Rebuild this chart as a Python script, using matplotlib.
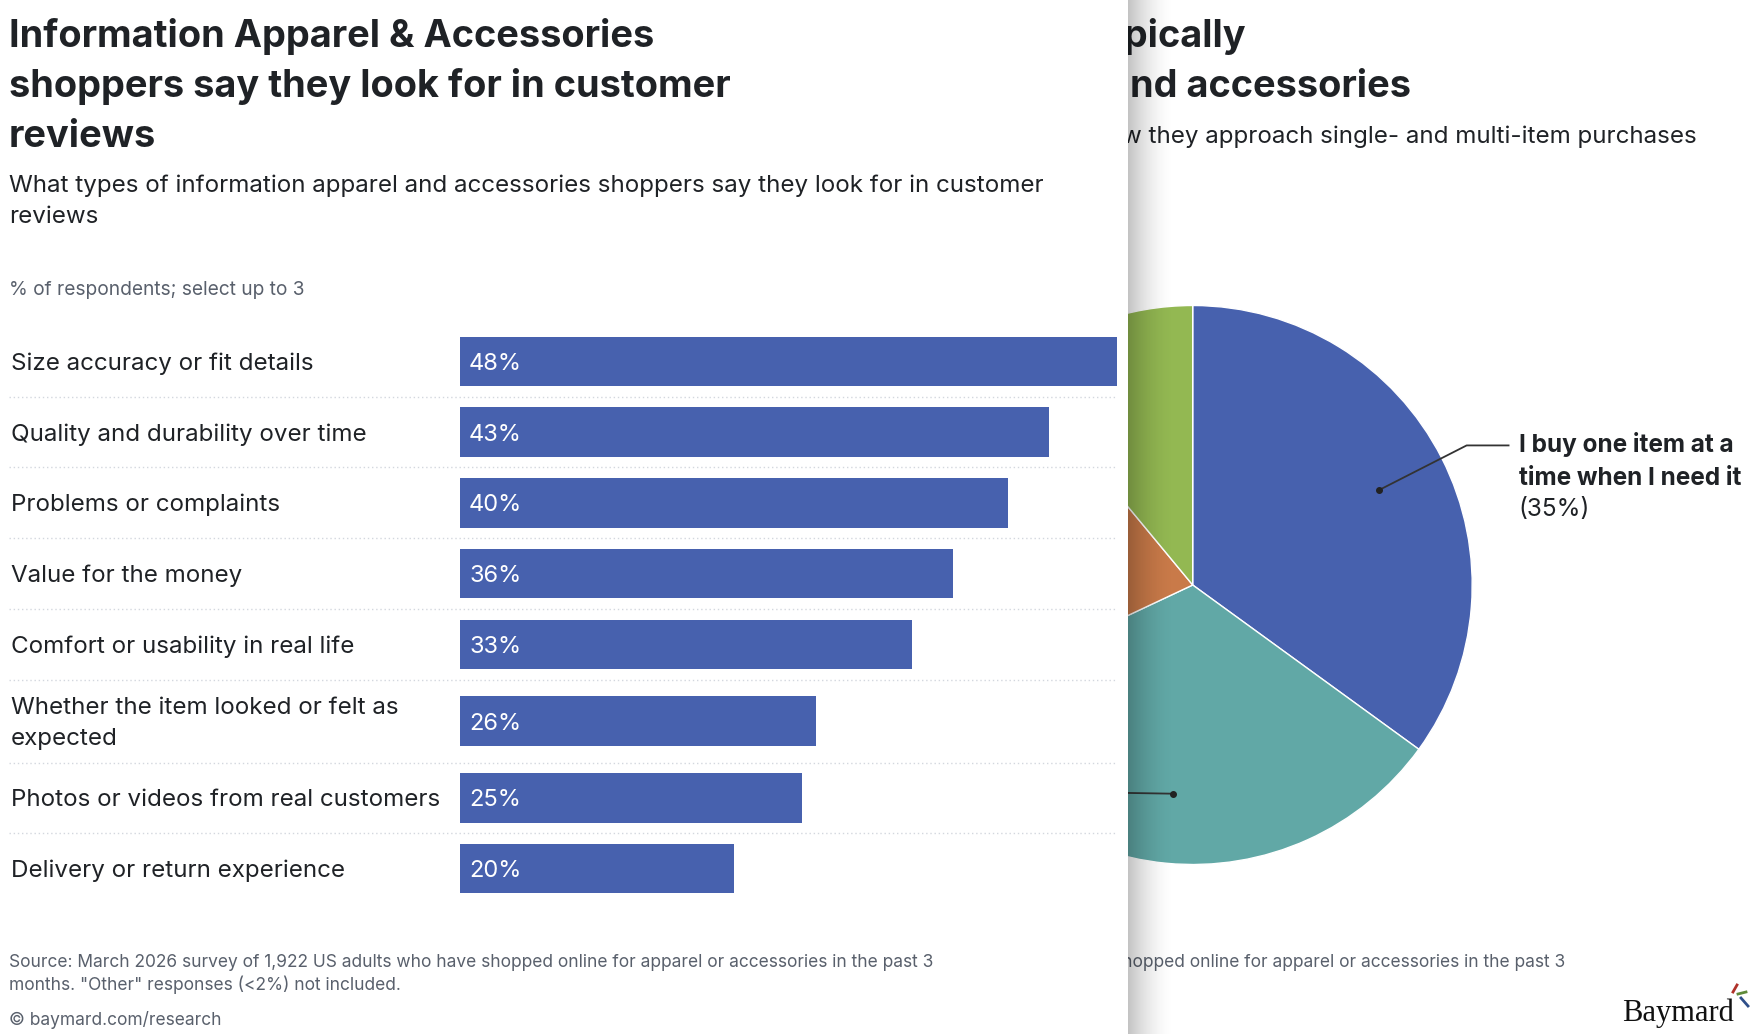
import numpy as np
import matplotlib.pyplot as plt
from matplotlib.patches import Rectangle

plt.rcParams['font.family'] = ['Inter', 'DejaVu Sans']

W, H = 1760, 1034

# bar chart data (left card)
categories = [
    "Size accuracy or fit details",
    "Quality and durability over time",
    "Problems or complaints",
    "Value for the money",
    "Comfort or usability in real life",
    "Whether the item looked or felt as\nexpected",
    "Photos or videos from real customers",
    "Delivery or return experience",
]
values = [48, 43, 40, 36, 33, 26, 25, 20]

# pie data (right card, mostly hidden behind the left card)
pie_values = [35, 33, 21, 11]
pie_colors = ["#4761ae", "#61a8a6", "#c97a49", "#93b852"]
pie_label = ["I buy one item at a", "time when I need it"]
pie_pct = "(35%)"

bar_color = "#4761ae"
dark = "#1f2226"
gray = "#59606c"

fs_title = 27.3
fs_body = 17.4
fs_small = 12.5

fig = plt.figure(figsize=(W / 100, H / 100), dpi=100)
fig.patch.set_facecolor("white")

# ---- right card (behind) ----
back = fig.add_axes([0, 0, 1, 1], zorder=0)
back.set_xlim(0, W)
back.set_ylim(H, 0)
back.axis("off")
back.text(1246, 46.7, "typically", ha="right", va="baseline",
          fontsize=fs_title, fontweight="bold", color=dark)
back.text(1411, 96.7, "and accessories", ha="right", va="baseline",
          fontsize=fs_title, fontweight="bold", color=dark)
back.text(1697, 143, "w they approach single- and multi-item purchases",
          ha="right", va="baseline", fontsize=fs_body, color=dark)
back.text(1565, 967, "shopped online for apparel or accessories in the past 3",
          ha="right", va="baseline", fontsize=fs_small, color=gray)
back.text(1678, 1013, "Baymard", ha="center", va="center", fontsize=22,
          family="Liberation Serif", color="#111111")
back.plot([1733, 1737], [992, 985], color="#b0322a", lw=2)
back.plot([1738, 1746], [994, 992], color="#5f8a3a", lw=2)
back.plot([1741, 1748], [998, 1006], color="#2f4f8a", lw=2)

cx, cy, r = 1192.7, 585.0, 279.5
pax = fig.add_axes([(cx - r) / W, 1 - (cy + r) / H, 2 * r / W, 2 * r / H], zorder=1)
wedges, _ = pax.pie(pie_values, colors=pie_colors, startangle=90, counterclock=False,
                    radius=1, wedgeprops=dict(edgecolor="white", linewidth=1))
pax.set_xlim(-1, 1)
pax.set_ylim(-1, 1)

# leader for the blue slice
w0 = wedges[0]
ang = np.deg2rad((w0.theta1 + w0.theta2) / 2)
p0 = (0.75 * np.cos(ang), 0.75 * np.sin(ang))
p1 = (1.1 * np.cos(ang), 1.1 * np.sin(ang))
p2 = (p1[0] + 0.15, p1[1])
pax.plot([p0[0], p1[0], p2[0]], [p0[1], p1[1], p2[1]], color="#333333", lw=1.3, clip_on=False)
pax.plot(*p0, "o", color="#222222", ms=4, clip_on=False)
lx, ly = cx + p2[0] * r + 10, cy - p2[1] * r
back.text(lx, ly + 7, pie_label[0], ha="left", va="baseline", fontsize=17.5,
          fontweight="bold", color=dark)
back.text(lx, ly + 39.5, pie_label[1], ha="left", va="baseline", fontsize=17.5,
          fontweight="bold", color=dark)
back.text(lx, ly + 71, pie_pct, ha="left", va="baseline", fontsize=17.5, color=dark)

# leader for the teal slice (label hidden to the left)
w1 = wedges[1]
ang = np.deg2rad((w1.theta1 + w1.theta2) / 2)
q0 = (0.75 * np.cos(ang), 0.75 * np.sin(ang))
pax.plot([q0[0], q0[0] - 0.6], [q0[1], q0[1] + 0.01], color="#333333", lw=1.3, clip_on=False)
pax.plot(*q0, "o", color="#222222", ms=4, clip_on=False)

# shadow cast by the left card
card_r = 1128
sax = fig.add_axes([card_r / W, 0, 48 / W, 1], zorder=2)
sax.axis("off")
grad = np.zeros((1, 200, 4))
grad[..., 3] = 0.24 * np.linspace(1, 0, 200) ** 1.8
sax.imshow(grad, aspect="auto", extent=[0, 1, 0, 1])

# ---- left card (front) ----
card = fig.add_axes([0, 0, card_r / W, 1], zorder=3)
card.set_xlim(0, card_r)
card.set_ylim(H, 0)
card.axis("off")
card.add_patch(Rectangle((0, 0), 1, 1, transform=card.transAxes, facecolor="white",
                         edgecolor="none", clip_on=False, zorder=0))

title_lines = ["Information Apparel & Accessories",
               "shoppers say they look for in customer",
               "reviews"]
for i, t in enumerate(title_lines):
    card.text(9, 46.7 + 50 * i, t, ha="left", va="baseline", fontsize=fs_title,
              fontweight="bold", color=dark)
card.text(9, 191.7, "What types of information apparel and accessories shoppers say "
          "they look for in customer", ha="left", va="baseline", fontsize=fs_body, color=dark)
card.text(9, 223, "reviews", ha="left", va="baseline", fontsize=fs_body, color=dark)
card.text(9, 295, "% of respondents; select up to 3", ha="left", va="baseline",
          fontsize=13.8, color=gray)

# row layout: two-line labels get a taller row
pitch, extra, lead = 70.7, 12.3, 31.4
heights = [pitch + extra * c.count("\n") for c in categories]
centers = []
y = 361.4 - heights[0] / 2
for h in heights:
    centers.append(y + h / 2)
    y += h

for c, lab in zip(centers, categories):
    lines = lab.split("\n")
    top = c - lead * (len(lines) - 1) / 2
    for k, line in enumerate(lines):
        card.text(11, top + lead * k + 8.5, line, ha="left", va="baseline",
                  fontsize=fs_body, color=dark)
for c, h in zip(centers[:-1], heights[:-1]):
    card.plot([9, 1117], [c + h / 2, c + h / 2], color="#d3d7de", lw=1,
              linestyle=(0, (1, 2)))

card.text(9, 967, "Source: March 2026 survey of 1,922 US adults who have shopped online "
          "for apparel or accessories in the past 3", ha="left", va="baseline",
          fontsize=fs_small, color=gray)
card.text(9, 990.5, "months. \"Other\" responses (<2%) not included.", ha="left",
          va="baseline", fontsize=fs_small, color=gray)
card.text(9, 1025, "\u00a9 baymard.com/research", ha="left", va="baseline",
          fontsize=fs_small, color=gray)

bax = fig.add_axes([460 / W, 0, (1117 - 460) / W, 1], zorder=4)
bax.set_ylim(H, 0)
bax.set_xlim(0, max(values))
bax.axis("off")
bax.barh(centers, values, height=49.4, color=bar_color)
for c, v in zip(centers, values):
    bax.annotate(f"{v}%", (0, c + 8.5), xytext=(6.5, 0), textcoords="offset points",
                 ha="left", va="baseline", fontsize=17, color="white")

fig.savefig("out.png", dpi=100, facecolor="white")
